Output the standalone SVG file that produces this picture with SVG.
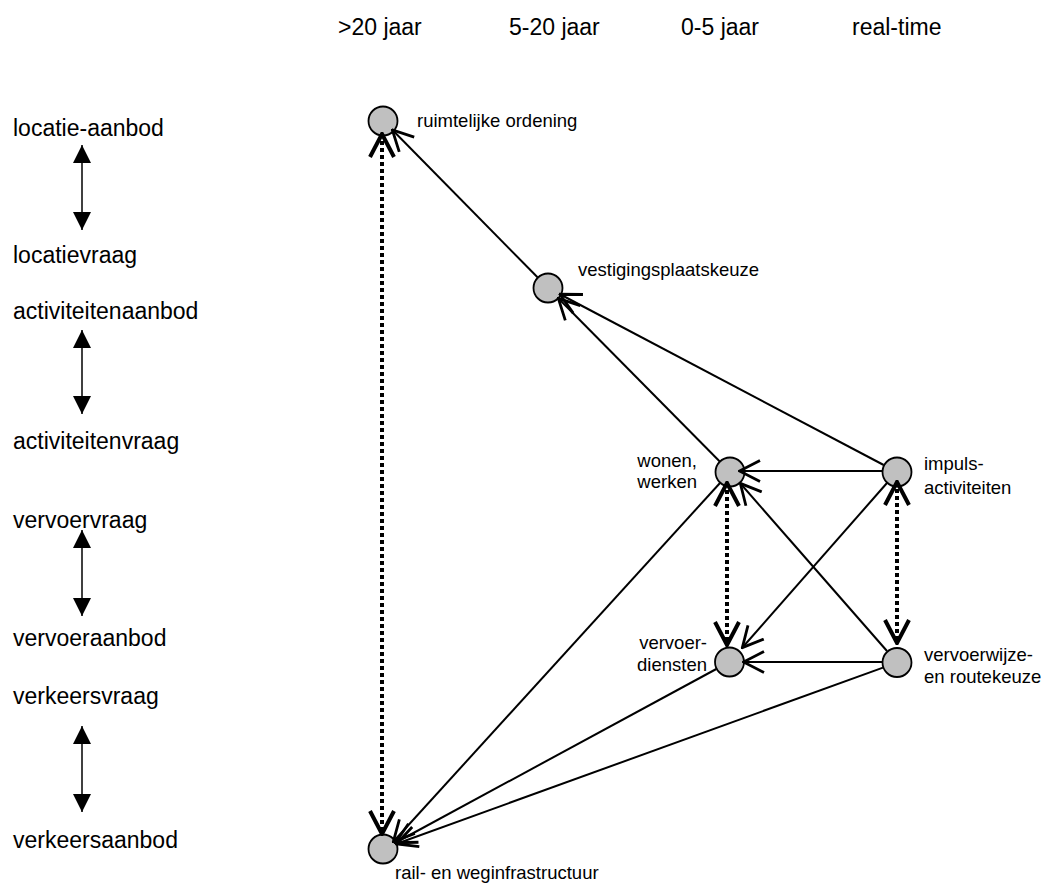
<svg xmlns="http://www.w3.org/2000/svg" width="1047" height="884" viewBox="0 0 1047 884">
<style>
text{font-family:"Liberation Sans",Arial,sans-serif;fill:#000}
.hdr{font-size:23px}
.lft{font-size:23px}
.lbl{font-size:18.5px}
.node{fill:#c0c0c0;stroke:#000;stroke-width:1.8}
.sol{stroke:#000;stroke-width:2;fill:none;marker-end:url(#open)}
.dot{stroke:#000;stroke-width:4;stroke-dasharray:4 3;fill:none;marker-start:url(#openb);marker-end:url(#openb)}
.dbl{stroke:#000;stroke-width:1.5;fill:none;marker-start:url(#fill);marker-end:url(#fill)}
</style>
<defs>
<marker id="open" viewBox="0 0 23 24" refX="22" refY="12" markerWidth="23" markerHeight="24" markerUnits="userSpaceOnUse" orient="auto-start-reverse">
<path d="M1,1.5 L21.5,12 L1,22.5" fill="none" stroke="#000" stroke-width="2.8"/>
</marker>
<marker id="openb" viewBox="0 0 27 28" refX="25" refY="14" markerWidth="27" markerHeight="28" markerUnits="userSpaceOnUse" orient="auto-start-reverse">
<path d="M2,2 L25,14 L2,26" fill="none" stroke="#000" stroke-width="4"/>
</marker>
<marker id="fill" viewBox="0 0 18 18" refX="18" refY="9" markerWidth="18" markerHeight="18" markerUnits="userSpaceOnUse" orient="auto-start-reverse">
<path d="M0,0 L18,9 L0,18 Z" fill="#000"/>
</marker>
</defs>
<g id="headers">
<text class="hdr" x="338" y="35">&gt;20 jaar</text>
<text class="hdr" x="509" y="35">5-20 jaar</text>
<text class="hdr" x="681" y="35">0-5 jaar</text>
<text class="hdr" x="852" y="35">real-time</text>
</g>
<g id="left-labels">
<text class="lft" x="13" y="136">locatie-aanbod</text>
<text class="lft" x="13" y="263">locatievraag</text>
<text class="lft" x="13" y="319">activiteitenaanbod</text>
<text class="lft" x="13" y="449">activiteitenvraag</text>
<text class="lft" x="13" y="528">vervoervraag</text>
<text class="lft" x="13" y="646">vervoeraanbod</text>
<text class="lft" x="13" y="704">verkeersvraag</text>
<text class="lft" x="13" y="848">verkeersaanbod</text>
</g>
<g id="left-arrows">
<line class="dbl" x1="82" y1="145" x2="82" y2="230"/>
<line class="dbl" x1="82" y1="330" x2="82" y2="414"/>
<line class="dbl" x1="82" y1="530" x2="82" y2="616"/>
<line class="dbl" x1="82" y1="726" x2="82" y2="812"/>
</g>
<g id="node-ruimtelijke">
<circle class="node" cx="383" cy="121" r="14.5"/>
<text class="lbl" x="417" y="127">ruimtelijke ordening</text>
</g>
<g id="node-vestiging">
<circle class="node" cx="548" cy="288" r="14.5"/>
<text class="lbl" x="578" y="276">vestigingsplaatskeuze</text>
</g>
<g id="node-wonen">
<circle class="node" cx="730" cy="472" r="14.5"/>
<text class="lbl" x="697" y="467" text-anchor="end">wonen,</text>
<text class="lbl" x="697" y="488" text-anchor="end">werken</text>
</g>
<g id="node-impuls">
<circle class="node" cx="897" cy="472" r="14.5"/>
<text class="lbl" x="924" y="470">impuls-</text>
<text class="lbl" x="924" y="494">activiteiten</text>
</g>
<g id="node-vervoerdiensten">
<circle class="node" cx="729.5" cy="662" r="14.5"/>
<text class="lbl" x="707" y="649" text-anchor="end">vervoer-</text>
<text class="lbl" x="707" y="671" text-anchor="end">diensten</text>
</g>
<g id="node-vervoerwijze">
<circle class="node" cx="897" cy="662.5" r="14.5"/>
<text class="lbl" x="924" y="661">vervoerwijze-</text>
<text class="lbl" x="924" y="683">en routekeuze</text>
</g>
<g id="node-rail">
<circle class="node" cx="383" cy="849" r="14.5"/>
<text class="lbl" x="395" y="879">rail- en weginfrastructuur</text>
</g>
<g id="connectors">
<line class="dot" x1="382" y1="134" x2="382" y2="834"/>
<line class="dot" x1="727" y1="483" x2="727" y2="645"/>
<line class="dot" x1="897" y1="482" x2="897" y2="643"/>
<line class="sol" x1="537.5" y1="277.3" x2="392" y2="129.5"/>
<line class="sol" x1="719.5" y1="461.3" x2="558" y2="298"/>
<line class="sol" x1="883.7" y1="465" x2="559.5" y2="294"/>
<line class="sol" x1="882" y1="471" x2="739" y2="471"/>
<line class="sol" x1="887" y1="483" x2="742" y2="648"/>
<line class="sol" x1="887" y1="651" x2="740" y2="483"/>
<line class="sol" x1="882" y1="662" x2="743" y2="662"/>
<line class="sol" x1="720" y1="483" x2="393" y2="842"/>
<line class="sol" x1="716.3" y1="669" x2="395" y2="843"/>
<line class="sol" x1="883" y1="667.6" x2="396" y2="844"/>
</g>
</svg>
